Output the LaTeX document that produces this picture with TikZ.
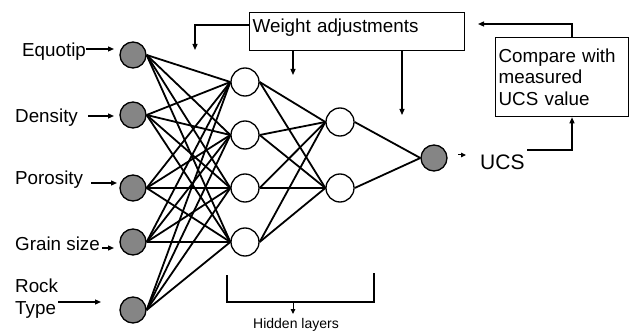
\documentclass[tikz,border=0pt]{standalone}
\usepackage{fontspec}
\setmainfont{Liberation Sans}
\usetikzlibrary{arrows.meta}
\begin{document}
\begin{tikzpicture}[x=1pt,y=-1pt,
  inp/.style={circle,draw,line width=1.3pt,fill=black!48,minimum size=26pt,inner sep=0pt},
  hid/.style={circle,draw,line width=1.3pt,fill=white,minimum size=28pt,inner sep=0pt},
  conn/.style={line width=1.8pt},
  arr/.style={line width=1.2pt,-{Triangle[length=6pt,width=5pt]}},
  lbl/.style={font=\fontsize{18.8}{22}\selectfont,inner sep=0pt},
  boxline/.style={line width=1.3pt}]
\useasboundingbox (0,0) rectangle (629,331);

% input nodes
\node[inp] (i1) at (133,55) {};
\node[inp] (i2) at (133,115) {};
\node[inp] (i3) at (133,188) {};
\node[inp] (i4) at (133,242) {};
\node[inp] (i5) at (133,310) {};
% hidden layer 1
\node[hid] (h1) at (245,82) {};
\node[hid] (h2) at (245,135) {};
\node[hid] (h3) at (245,188) {};
\node[hid] (h4) at (245,242) {};
% hidden layer 2
\node[hid] (g1) at (340,122) {};
\node[hid] (g2) at (340,188) {};
% output
\node[inp] (o) at (434,158) {};

% connections
\foreach \i in {1,...,5}{
  \foreach \h in {1,...,4}{
    \draw[conn] (i\i.east) -- (h\h.west);
  }
}
\foreach \h in {1,...,4}{
  \foreach \g in {1,2}{
    \draw[conn] (h\h.east) -- (g\g.west);
  }
}
\draw[conn] (g1.east) -- (o.west);
\draw[conn] (g2.east) -- (o.west);

% input labels
\node[lbl,anchor=base west] (leq) at (22,57) {Equotip};
\node[lbl,anchor=base west] (lde) at (15,123) {Density};
\node[lbl,anchor=base west] (lpo) at (15,185) {Porosity};
\node[lbl,anchor=base west] (lgr) at (15,250) {Grain size};
\node[lbl,anchor=north west,align=left] (lro) at (15,279) {Rock\\Type};

\coordinate (a1s) at (86,49);  \coordinate (a1e) at (114,49);
\coordinate (a2s) at (88,116); \coordinate (a2e) at (114,116);
\coordinate (a3s) at (91,183); \coordinate (a3e) at (117,183);
\coordinate (a4s) at (102,248); \coordinate (a4e) at (114,248);
\coordinate (a5s) at (58,302); \coordinate (a5e) at (101,302);
\draw[arr] (a1s) -- (a1e);
\draw[arr] (a2s) -- (a2e);
\draw[arr] (a3s) -- (a3e);
\draw[arr] (a4s) -- (a4e);
\draw[arr] (a5s) -- (a5e);

% weight adjustments box
\node[lbl,draw,boxline,anchor=north west,minimum width=215pt,minimum height=38pt,
      text width=209pt,align=left,inner xsep=3pt,inner ysep=0pt,
      text height=13pt,text depth=12pt] (wa) at (249,12) {Weight adjustments};
\coordinate (wl) at (249,25);
\coordinate (wd) at (195,50);
\draw[arr] (wl) -| (wd);
\coordinate (t1) at (293,75);
\coordinate (t2) at (402,115);
\draw[arr] (wa.south -| t1) -- (t1);
\draw[arr] (wa.south -| t2) -- (t2);

% compare box
\node[lbl,draw,boxline,anchor=north west,minimum width=133pt,minimum height=79pt,
      text width=127pt,align=left,inner xsep=3pt,inner ysep=0pt,
      font=\fontsize{18.8}{21.5}\selectfont] (cmp) at (495,37)
      {Compare with\\measured\\UCS value};
\coordinate (cx) at (572,0);
\coordinate (c1) at (478,24);
\draw[arr] (cmp.north -| cx) |- (c1);

% output label
\coordinate (oa) at (458,155);
\coordinate (ob) at (466,155);
\draw[arr,line width=1pt,-{Triangle[length=5pt,width=4.5pt]}] (oa) -- (ob);
\node[lbl,anchor=base west,font=\fontsize{21}{25}\selectfont] (ucs) at (480,170) {UCS};
\coordinate (ue) at (527,150);
\draw[arr] (ue) -| (cmp.south -| cx);

% hidden layers bracket
\coordinate (hb1) at (227,275);
\coordinate (hb2) at (227,302);
\coordinate (hb3) at (374,302);
\coordinate (hb4) at (374,273);
\draw[boxline] (hb1) -- (hb2) -- (hb3) -- (hb4);
\coordinate (hm) at (293,302);
\coordinate (hmt) at (293,314);
\draw[arr,line width=1pt,-{Triangle[length=5pt,width=4.5pt]}] (hm) -- (hmt);
\node[inner sep=0pt,anchor=base,font=\fontsize{14}{16}\selectfont] (hl) at (296,328) {Hidden layers};
\end{tikzpicture}
\end{document}
